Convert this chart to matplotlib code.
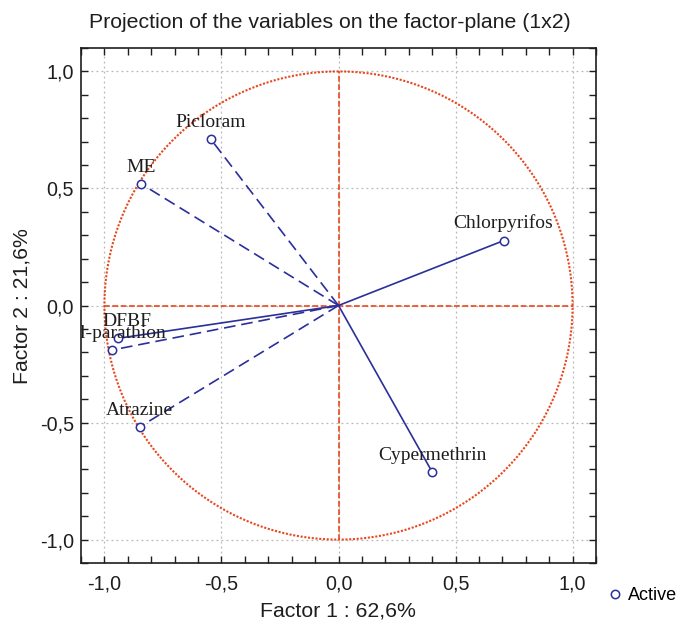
import numpy as np
import matplotlib
matplotlib.use("Agg")
import matplotlib.pyplot as plt
from matplotlib.ticker import MultipleLocator, FuncFormatter
from matplotlib.lines import Line2D

variables = ["Picloram", "ME", "Chlorpyrifos", "DFBF", "Methyl-parathion", "Atrazine", "Cypermethrin"]
factor1 = [-0.546, -0.842, 0.705, -0.940, -0.966, -0.850, 0.400]
factor2 = [0.711, 0.519, 0.277, -0.140, -0.190, -0.519, -0.711]
line_styles = ["dashed", "dashed", "solid", "solid", "dashed", "dashed", "solid"]

title = "Projection of the variables on the factor-plane (1x2)"
xlabel = "Factor 1 : 62,6%"
ylabel = "Factor 2 : 21,6%"

blue = "#2a2f9a"
red = "#e8481e"
dark = "#1e1e1e"

# label placement tweaks (styling, in points)
label_offsets = {"DFBF": (6, 6), "Methyl-parathion": (39, 6)}
label_ha = {"Methyl-parathion": "right"}

fig = plt.figure(figsize=(6.81, 6.26), dpi=100)
ax = fig.add_axes([81/681, 1-563/626, (596-81)/681, (563-48)/626])

ax.set_xlim(-1.1, 1.1)
ax.set_ylim(-1.1, 1.1)

ax.xaxis.set_major_locator(MultipleLocator(0.5))
ax.yaxis.set_major_locator(MultipleLocator(0.5))
ax.xaxis.set_minor_locator(MultipleLocator(0.1))
ax.yaxis.set_minor_locator(MultipleLocator(0.1))
ax.grid(True, which="major", color="#b8b8b8", linestyle=(0, (1.5, 2.5)), linewidth=0.9)
ax.set_axisbelow(True)

fmt = FuncFormatter(lambda v, p: ("%.1f" % v).replace(".", ",").replace("-0,0", "0,0"))
ax.xaxis.set_major_formatter(fmt)
ax.yaxis.set_major_formatter(fmt)
ax.tick_params(which="both", direction="in", top=True, right=True, length=5, width=1,
               colors=dark, labelsize=14.2)
ax.tick_params(axis="x", which="major", pad=8)
ax.tick_params(axis="y", which="major", pad=5)
for lab in ax.get_xticklabels() + ax.get_yticklabels():
    lab.set_fontfamily("Liberation Sans")
for s in ax.spines.values():
    s.set_linewidth(1.2)
    s.set_color(dark)

# unit circle and axes through the origin
t = np.linspace(0, 2*np.pi, 600)
ax.plot(np.cos(t), np.sin(t), color=red, linestyle=(0, (1, 0.8)), linewidth=1.5, zorder=2)
ax.plot([-1, 1], [0, 0], color=red, linestyle=(0, (3.5, 1.5)), linewidth=1.2, zorder=2)
ax.plot([0, 0], [-1, 1], color=red, linestyle=(0, (3.5, 1.5)), linewidth=1.2, zorder=2)

# vectors
for name, x, y, ls in zip(variables, factor1, factor2, line_styles):
    style = (0, (7, 3.5)) if ls == "dashed" else "-"
    ax.plot([0, x], [0, y], color=blue, linestyle=style, linewidth=1.2, zorder=3)
    ax.plot([x], [y], marker="o", markersize=6, markerfacecolor="white",
            markeredgecolor=blue, markeredgewidth=1.1, linestyle="none", zorder=4)
    ax.annotate(name, (x, y), xytext=label_offsets.get(name, (0, 6)), textcoords="offset points",
                ha=label_ha.get(name, "center"), va="bottom", fontsize=14, family="Liberation Serif",
                color=dark, annotation_clip=False, clip_on=True, zorder=5)

fig.text(330/681, 1-22/626, title, ha="center", va="center", fontsize=15.3,
         family="Liberation Sans", color=dark)
fig.text(338/681, 1-611/626, xlabel, ha="center", va="center", fontsize=15.3,
         family="Liberation Sans", color=dark)
fig.text(22/681, 1-306/626, ylabel, ha="center", va="center", rotation=90, fontsize=15.3,
         family="Liberation Sans", color=dark)

handle = Line2D([], [], marker="o", markersize=6, markerfacecolor="white",
                markeredgecolor=blue, markeredgewidth=1.1, linestyle="none")
fig.legend([handle], ["Active"], loc="center left", bbox_to_anchor=(606/681, 1-596/626),
           frameon=False, prop={"family": "Liberation Sans", "size": 13},
           handletextpad=0.2, handlelength=1.0, borderpad=0, borderaxespad=0)

fig.savefig("out.png", dpi=100)
